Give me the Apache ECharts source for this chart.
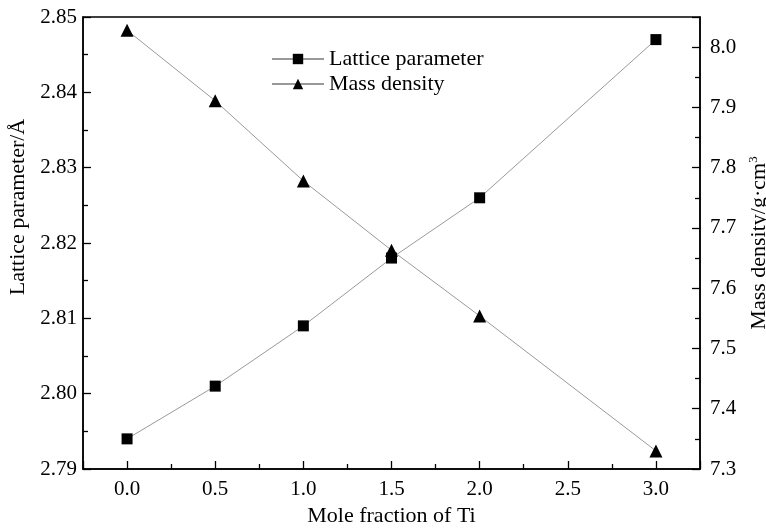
<!DOCTYPE html>
<html>
<head>
<meta charset="utf-8">
<script src="https://cdn.jsdelivr.net/npm/echarts@6/dist/echarts.min.js"></script>
<style>
  html, body { margin: 0; padding: 0; background: #fff; overflow: hidden; }
  #chart { width: 766px; height: 529px; }
</style>
</head>
<body>
<div id="chart"></div>
<script>
// data
const tiFraction = [0.0, 0.5, 1.0, 1.5, 2.0, 3.0];
const latticeParam = [2.794, 2.801, 2.809, 2.818, 2.826, 2.847];
const massDensity = [8.028, 7.911, 7.778, 7.663, 7.554, 7.330];

const font = "Liberation Serif";
const chart = echarts.init(document.getElementById("chart"));

function pairs(xs, ys) {
  return xs.map((x, i) => [x, ys[i]]);
}

const axisCommon = {
  axisLine: { show: true, onZero: false, lineStyle: { color: "#000", width: 1.5 } },
  axisTick: { show: true, inside: true, length: 8, lineStyle: { color: "#000", width: 1.3 } },
  minorTick: { show: true, splitNumber: 2, length: 5, lineStyle: { color: "#000", width: 1.3 } },
  splitLine: { show: false },
  axisLabel: { color: "#000", fontFamily: font, fontSize: 21, showMinLabel: false, showMaxLabel: false },
  nameTextStyle: { color: "#000", fontFamily: font, fontSize: 22 }
};

chart.setOption({
  animation: false,
  grid: {
    left: 83, right: 66, top: 17, bottom: 60,
    containLabel: false,
    outerBoundsMode: "none",
    show: true, borderColor: "#000", borderWidth: 1.5
  },
  legend: {
    orient: "vertical",
    left: 266,
    top: 43,
    itemWidth: 52,
    itemHeight: 13,
    itemGap: 3,
    textStyle: { color: "#000", fontFamily: font, fontSize: 22 },
    data: ["Lattice parameter", "Mass density"]
  },
  xAxis: {
    ...axisCommon,
    type: "value",
    min: -0.25,
    max: 3.25,
    splitNumber: 7,
    name: "Mole fraction of Ti",
    nameLocation: "middle",
    nameGap: 36,
    axisLabel: {
      ...axisCommon.axisLabel,
      margin: 10,
      formatter: v => v.toFixed(1)
    }
  },
  yAxis: [
    {
      ...axisCommon,
      type: "value",
      min: 2.79,
      max: 2.85,
      interval: 0.01,
      name: "Lattice parameter/Å",
      nameLocation: "middle",
      nameGap: 42,
      nameTextStyle: {
        ...axisCommon.nameTextStyle,
        padding: [0, 0, 0, 72]
      },
      axisLabel: {
        ...axisCommon.axisLabel,
        showMinLabel: true,
        showMaxLabel: true,
        margin: 6,
        formatter: v => v.toFixed(2)
      }
    },
    {
      ...axisCommon,
      type: "value",
      position: "right",
      min: 7.3,
      max: 8.05,
      splitNumber: 7,
      name: "Mass density/g·cm{sup|3}",
      nameLocation: "middle",
      nameGap: 44,
      nameTextStyle: {
        ...axisCommon.nameTextStyle,
        rich: {
          sup: { fontFamily: font, fontSize: 13, color: "#000", verticalAlign: "top", padding: [0, 0, 12, 0] }
        }
      },
      axisLabel: {
        ...axisCommon.axisLabel,
        showMinLabel: true,
        margin: 10,
        formatter: v => v.toFixed(1)
      }
    }
  ],
  series: [
    {
      name: "Lattice parameter",
      type: "line",
      yAxisIndex: 0,
      data: pairs(tiFraction, latticeParam),
      symbol: "rect",
      symbolSize: 11,
      itemStyle: { color: "#000" },
      lineStyle: { color: "#999", width: 1 }
    },
    {
      name: "Mass density",
      type: "line",
      yAxisIndex: 1,
      data: pairs(tiFraction, massDensity),
      symbol: "triangle",
      symbolSize: 13,
      itemStyle: { color: "#000" },
      lineStyle: { color: "#999", width: 1 }
    }
  ]
});
</script>
</body>
</html>
